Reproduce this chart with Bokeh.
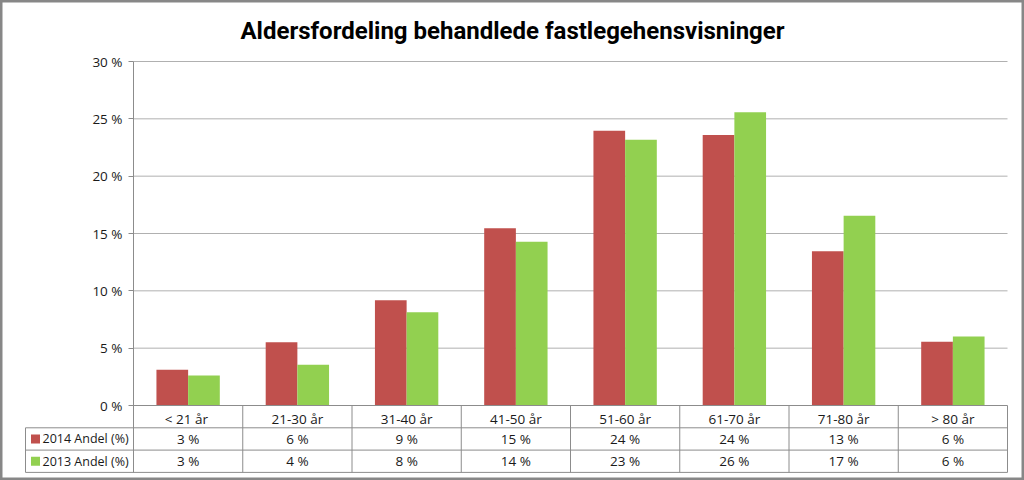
import numpy as np
from bokeh.plotting import figure
from bokeh.models import Range1d, LinearAxis, FixedTicker, PrintfTickFormatter
from bokeh.core.properties import value
from bokeh.embed import file_html
from bokeh.resources import INLINE

# ---------------- data ----------------
chart_title = "Aldersfordeling behandlede fastlegehensvisninger"
categories = ["<  21 år", "21-30 år", "31-40 år", "41-50 år", "51-60 år", "61-70 år", "71-80 år", "> 80 år"]
series_names = ["2014 Andel (%)", "2013 Andel (%)"]
values_2014 = [3.11, 5.52, 9.18, 15.45, 23.95, 23.6, 13.45, 5.55]
values_2013 = [2.62, 3.55, 8.14, 14.28, 23.17, 25.58, 16.55, 6.01]
y_ticks = [0, 5, 10, 15, 20, 25, 30]
colors = ["#C0504D", "#92D050"]

# ---------------- layout (pixels) ----------------
W, H = 1024, 480
PL, PR = 133, 1007     # plot area left/right
PT, P0 = 61, 405       # plot area top / zero line
ROW = 22.3             # table row height
TL = 25                # table left edge
FONT = "Open Sans"
GRID_C = "#b0b0b0"
LINE_C = "#8c8c8c"
TEXT_C = "#1a1a1a"

n = len(categories)
cw = (PR - PL) / n
ppu = (P0 - PT) / max(y_ticks)


def X(px):
    return (px - PL) / cw


def Y(py):
    return (P0 - py) / ppu


p = figure(width=W, height=H,
           x_range=Range1d(X(0), X(W)), y_range=Range1d(Y(H), Y(0)),
           x_axis_type=None, y_axis_type=None,
           toolbar_location=None, output_backend="svg", min_border=0)
p.outline_line_color = "#878787"
p.outline_line_width = 4
p.background_fill_color = "white"
p.border_fill_color = "white"

# gridlines
gy = [float(t) for t in y_ticks[1:]]
p.segment(x0=0, x1=n, y0=gy, y1=gy, line_color=GRID_C, line_width=1)

# bars
idx = np.arange(n)
bw = 0.29
p.vbar(x=idx + 0.5 - bw / 2, top=values_2014, width=bw, color=colors[0], line_color=None)
p.vbar(x=idx + 0.5 + bw / 2, top=values_2013, width=bw, color=colors[1], line_color=None)

# data table lines
row_lines = [Y(P0 + k * ROW) for k in (1, 2, 3)]
p.segment(x0=X(TL), x1=n, y0=row_lines, y1=row_lines, line_color=LINE_C, line_width=1)
vx = [float(i) for i in range(1, n + 1)]
p.segment(x0=vx, x1=vx, y0=0, y1=Y(P0 + 3 * ROW), line_color=LINE_C, line_width=1)
p.segment(x0=X(TL), x1=X(TL), y0=Y(P0 + ROW), y1=Y(P0 + 3 * ROW), line_color=LINE_C, line_width=1)

# data table values
for r, vals in enumerate([values_2014, values_2013]):
    p.text(x=idx + 0.5, y=Y(P0 + (1.5 + r) * ROW),
           text=[f"{round(v)} %" for v in vals],
           text_align="center", text_baseline="middle",
           text_font=value(FONT), text_font_size="13.5px", text_color=TEXT_C)

# legend keys in table
ly = [Y(P0 + 1.5 * ROW), Y(P0 + 2.5 * ROW)]
p.rect(x=X(TL + 10), y=ly, width=9, height=9, width_units="screen", height_units="screen",
       color=colors, line_color=None)
p.text(x=X(TL + 17), y=ly, text=series_names, text_align="left", text_baseline="middle",
       text_font=value(FONT), text_font_size="12.5px", text_color=TEXT_C)

# title
p.text(x=[X(W / 2)], y=[Y(30)], text=[chart_title], text_align="center", text_baseline="alphabetic",
       text_font=value("Roboto"), text_font_style="bold", text_font_size="24px", text_color="black")

# y axis
yaxis = LinearAxis(fixed_location=0, ticker=FixedTicker(ticks=y_ticks, minor_ticks=[]),
                   formatter=PrintfTickFormatter(format="%d %%"),
                   bounds=(Y(P0 + 3 * ROW), max(y_ticks)))
yaxis.major_tick_out = 5
yaxis.major_tick_in = 0
yaxis.minor_tick_out = 0
yaxis.minor_tick_in = 0
yaxis.axis_line_color = LINE_C
yaxis.major_tick_line_color = LINE_C
yaxis.major_label_text_font = FONT
yaxis.major_label_text_font_size = "13.5px"
yaxis.major_label_text_color = TEXT_C
yaxis.major_label_standoff = 6
p.add_layout(yaxis, "left")

# x axis (category row of the table)
centers = [float(i) + 0.5 for i in range(n)]
xaxis = LinearAxis(fixed_location=0, ticker=FixedTicker(ticks=centers, minor_ticks=[]),
                   major_label_overrides={c: lab for c, lab in zip(centers, categories)},
                   bounds=(0, n))
xaxis.major_tick_out = 0
xaxis.major_tick_in = 0
xaxis.minor_tick_out = 0
xaxis.minor_tick_in = 0
xaxis.axis_line_color = LINE_C
xaxis.major_label_text_font = FONT
xaxis.major_label_text_font_size = "13.5px"
xaxis.major_label_text_color = TEXT_C
xaxis.major_label_standoff = 4
p.add_layout(xaxis, "below")

open("out.html", "w").write(file_html(p, INLINE))
